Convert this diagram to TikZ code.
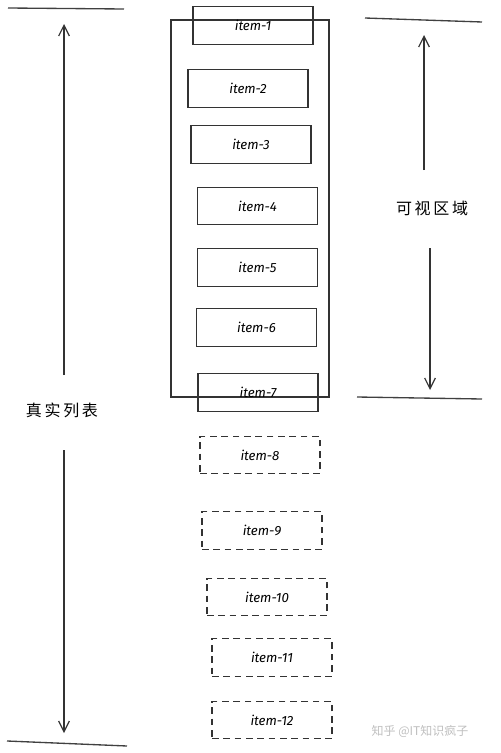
\documentclass[tikz,border=0pt]{standalone}
\usepackage{fontspec}
\setmainfont{Fira Sans}
\newfontfamily\cjk{Noto Sans CJK SC}
\usetikzlibrary{arrows.meta}

\begin{document}
\begin{tikzpicture}[x=0.75pt, y=-0.75pt, line width=0.9pt, draw=black!80,
    item/.style={draw, minimum width=90pt, minimum height=28pt, font=\itshape},
    hidden item/.style={item, dash pattern=on 5pt off 3.5pt},
    arr/.style={-{Straight Barb[length=8pt, width=8pt]}, draw=black!80},
    edge line/.style={draw=black!75, line width=1pt}]
    \useasboundingbox (0,0) rectangle (500,753);

    % visible window
    \node[draw, minimum width=118.5pt, minimum height=282.75pt, inner sep=0pt] (window) at (250,208.5) {};

    % items of the list
    \foreach \i/\x/\y/\kind in {1/253/25.5/item, 2/248/88.5/item, 3/251/144.5/item,
        4/257.5/206/item, 5/257.5/267.5/item, 6/256.5/327.5/item, 7/258/392.5/item,
        8/260/455/hidden item, 9/262/530.5/hidden item, 10/267/597/hidden item,
        11/272/657.5/hidden item, 12/272/720/hidden item}
        \node[\kind] (item \i) at (\x,\y) {item-\i};

    % real list
    \coordinate (list top a) at (8,8);
    \coordinate (list top b) at (124,9);
    \coordinate (list bottom a) at (7,741);
    \coordinate (list bottom b) at (127,746);
    \draw[edge line] (list top a) -- (list top b);
    \draw[edge line] (list bottom a) -- (list bottom b);
    \node[font=\cjk\large] (real node) at (62,410) {真\,实\,列\,表};
    \coordinate (real up) at (64,375);
    \coordinate (real up end) at (64,24);
    \coordinate (real down) at (64,450);
    \coordinate (real down end) at (64,733);
    \draw[arr] (real up) -- (real up end);
    \draw[arr] (real down) -- (real down end);

    % visible area
    \coordinate (view top a) at (365,18);
    \coordinate (view top b) at (482,22);
    \coordinate (view bottom a) at (357,397);
    \coordinate (view bottom b) at (482,399);
    \draw[edge line] (view top a) -- (view top b);
    \draw[edge line] (view bottom a) -- (view bottom b);
    \node[font=\cjk\large] (view node) at (432,208) {可\,视\,区\,域};
    \coordinate (view up) at (424,170);
    \coordinate (view up end) at (424,35);
    \coordinate (view down) at (430,248);
    \coordinate (view down end) at (430,390);
    \draw[arr] (view up) -- (view up end);
    \draw[arr] (view down) -- (view down end);

    \node[font=\cjk\small, text=black!25] (mark) at (420,731) {知乎 @IT知识疯子};
\end{tikzpicture}
\end{document}
